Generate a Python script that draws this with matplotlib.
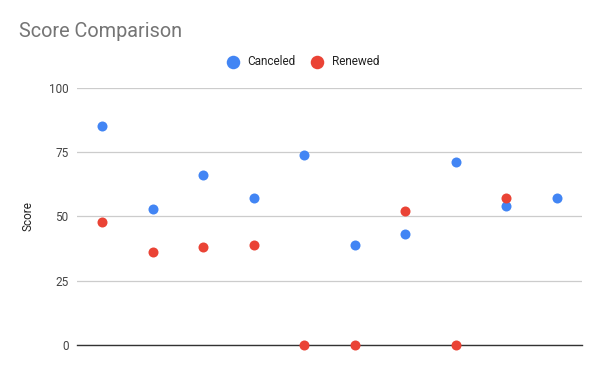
import matplotlib
matplotlib.use("Agg")
import matplotlib.pyplot as plt
import numpy as np

categories = list(range(1, 11))
canceled = [85, 53, 66, 57, 74, 39, 43, 71, 54, 57]
renewed = [48, 36, 38, 39, 0, 0, 52, 0, 57, np.nan]
yticks = [0, 25, 50, 75, 100]

plt.rcParams['font.family'] = ['Roboto', 'DejaVu Sans']

fig = plt.figure(figsize=(6, 3.71), dpi=100)
ax = fig.add_axes([0.128, 0.070, 0.842, 0.693])

x = np.arange(len(categories))
ax.scatter(x, canceled, s=52, color='#4285F4', label='Canceled', zorder=3, linewidths=0, clip_on=False)
ax.scatter(x, renewed, s=52, color='#EA4335', label='Renewed', zorder=3, linewidths=0, clip_on=False)

ax.set_xlim(-0.5, len(categories) - 0.5)
ax.set_ylim(0, 100)
ax.set_yticks(yticks)
ax.set_yticklabels([str(v) for v in yticks], fontsize=8.5, color='#444444')
ax.set_xticks([])
ax.tick_params(axis='y', length=0, pad=6)
ax.grid(axis='y', color='#cccccc', linewidth=0.9)
ax.set_axisbelow(True)
for s in ['top', 'right', 'left']:
    ax.spines[s].set_visible(False)
ax.spines['bottom'].set_color('#333333')
ax.spines['bottom'].set_linewidth(1.0)
ax.spines['bottom'].set_zorder(2)

ax.set_ylabel('Score', fontsize=8.5, color='#222222', labelpad=10)

fig.text(0.031, 0.915, 'Score Comparison', fontsize=14.3, color='#757575', ha='left', va='center')

leg = fig.legend(loc='center', bbox_to_anchor=(0.5, 0.835), ncol=2, frameon=False,
                 fontsize=8.5, handletextpad=0.2, columnspacing=0.9, markerscale=1.35,
                 scatterpoints=1)
for t in leg.get_texts():
    t.set_color('#222222')

fig.savefig('out.png', dpi=100)
